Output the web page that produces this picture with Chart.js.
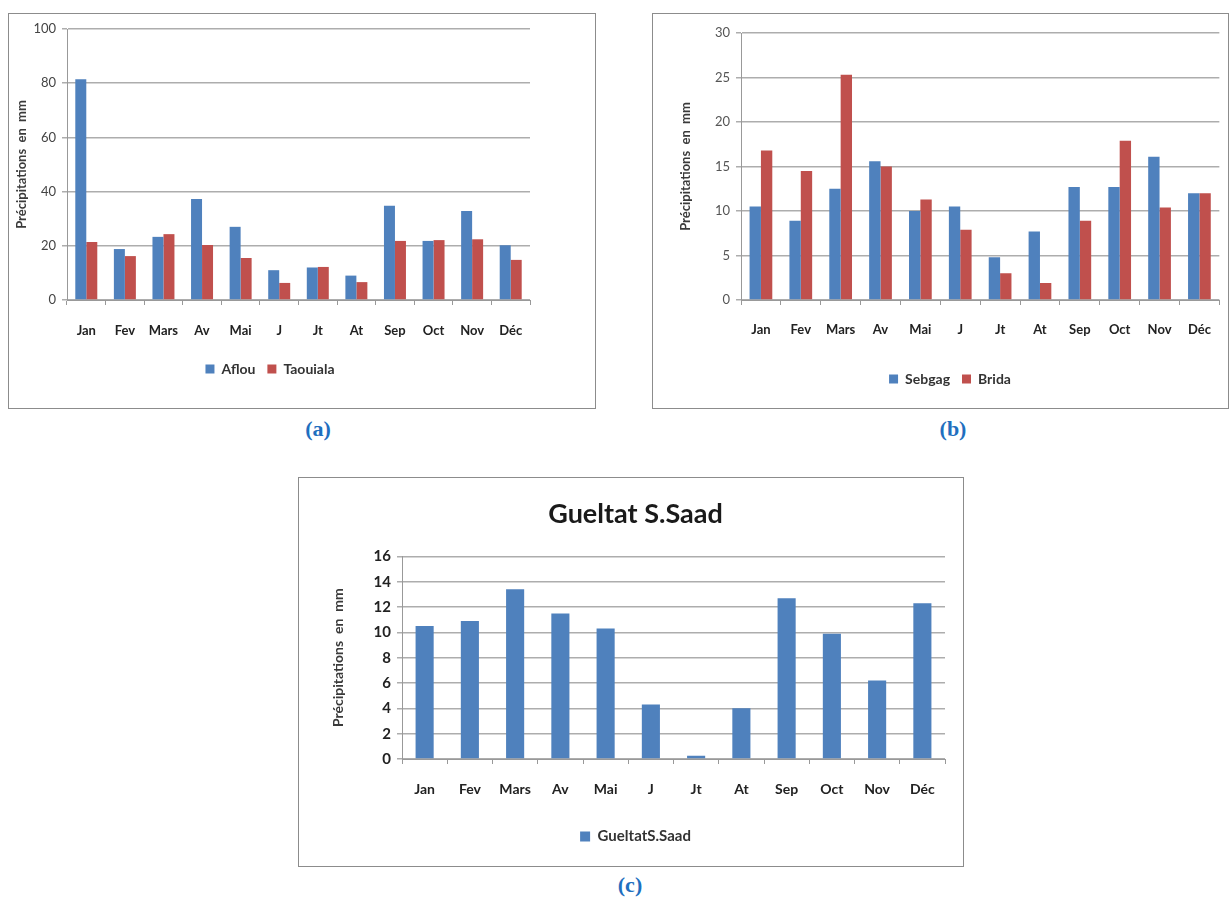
<!DOCTYPE html>
<html>
<head>
<meta charset="utf-8">
<script src="https://cdn.jsdelivr.net/npm/chart.js@4"></script>
<style>
  body { margin: 0; background: #fff; width: 1229px; height: 897px; position: relative; overflow: hidden; }
  .box { position: absolute; border: 1px solid #8c8c8c; background: #fff; }
  .box canvas { display: block; }
  .lbl { position: absolute; font: bold 22px "Liberation Serif", "Times New Roman", serif; color: #1f6fbf; transform: translateX(-50%); }
</style>
</head>
<body>
<div class="box" style="left:8px;top:13px;width:586px;height:394px;"><canvas id="chartA" width="586" height="394"></canvas></div>
<div class="box" style="left:652px;top:13px;width:575px;height:394px;"><canvas id="chartB" width="575" height="394"></canvas></div>
<div class="box" style="left:298px;top:477px;width:664px;height:388px;"><canvas id="chartC" width="664" height="388"></canvas></div>
<div class="lbl" style="left:318px;top:416px;">(a)</div>
<div class="lbl" style="left:953px;top:416px;">(b)</div>
<div class="lbl" style="left:630px;top:872px;">(c)</div>
<script>
// Mois et précipitations mensuelles (mm)
const mois = ['Jan', 'Fev', 'Mars', 'Av', 'Mai', 'J', 'Jt', 'At', 'Sep', 'Oct', 'Nov', 'Déc'];

const aflou = [81.5, 18.8, 23.3, 37.3, 27, 11, 12, 9, 34.8, 21.8, 32.8, 20.2];
const taouiala = [21.4, 16.2, 24.3, 20.3, 15.5, 6.3, 12.2, 6.6, 21.8, 22.1, 22.4, 14.8];

const sebgag = [10.5, 8.9, 12.5, 15.6, 10.0, 10.5, 4.8, 7.7, 12.7, 12.7, 16.1, 12.0];
const brida = [16.8, 14.5, 25.3, 15.0, 11.3, 7.9, 3.0, 1.9, 8.9, 17.9, 10.4, 12.0];

const gueltat = [10.5, 10.9, 13.4, 11.5, 10.3, 4.3, 0.25, 4.0, 12.7, 9.9, 6.2, 12.3];

const BLEU = '#4f81bd';
const ROUGE = '#c0504d';
const FONT = 'Lato, "Open Sans", sans-serif';

function options(o) {
  return {
    responsive: false,
    animation: false,
    layout: { padding: o.padding },
    plugins: {
      title: o.title ? {
        display: true, text: o.title,
        color: '#1a1a1a',
        font: { family: FONT, size: 27, weight: 'bold' },
        padding: { top: 20, bottom: 26 }
      } : { display: false },
      legend: {
        position: 'bottom',
        labels: {
          boxWidth: o.legendBox, boxHeight: o.legendBox,
          color: '#333',
          padding: o.legendPad,
          font: { family: FONT, size: o.legendSize, weight: 'bold' }
        }
      },
      tooltip: { enabled: false }
    },
    scales: {
      x: {
        grid: { display: true, drawOnChartArea: false, color: '#999', tickLength: 5 },
        border: { color: '#999' },
        ticks: { color: '#222', padding: o.xPad, font: { family: FONT, size: o.xSize, weight: 'bold' } },
        afterFit: s => { s.height = o.xHeight; }
      },
      y: {
        min: 0, max: o.max,
        ticks: { stepSize: o.step, color: o.yColor, padding: 6, font: { family: FONT, size: o.ySize, weight: o.yWeight } },
        grid: { color: '#adadad', lineWidth: 1.5, tickLength: 5 },
        border: { color: '#999' },
        title: {
          display: true, text: 'Précipitations  en  mm',
          color: '#3a3a3a',
          font: { family: FONT, size: o.titleSize, weight: 'bold' }
        },
        afterFit: s => { s.width = o.yWidth; }
      }
    }
  };
}

new Chart(document.getElementById('chartA'), {
  type: 'bar',
  data: {
    labels: mois,
    datasets: [
      { label: 'Aflou', data: aflou, backgroundColor: BLEU, categoryPercentage: 0.57, barPercentage: 1 },
      { label: 'Taouiala', data: taouiala, backgroundColor: ROUGE, categoryPercentage: 0.57, barPercentage: 1 }
    ]
  },
  options: options({
    padding: { left: 1, right: 65, top: 15, bottom: 22 },
    max: 100, step: 20, yWidth: 57, xHeight: 50, xPad: 18, xSize: 13, ySize: 13,
    yColor: '#444', yWeight: 'normal', titleSize: 13, legendBox: 9, legendPad: 12, legendSize: 14
  })
});

new Chart(document.getElementById('chartB'), {
  type: 'bar',
  data: {
    labels: mois,
    datasets: [
      { label: 'Sebgag', data: sebgag, backgroundColor: BLEU, categoryPercentage: 0.57, barPercentage: 1 },
      { label: 'Brida', data: brida, backgroundColor: ROUGE, categoryPercentage: 0.57, barPercentage: 1 }
    ]
  },
  options: options({
    padding: { left: 21, right: 2, top: 19, bottom: 12 },
    max: 30, step: 5, yWidth: 67, xHeight: 60, xPad: 17, xSize: 13, ySize: 13,
    yColor: '#555', yWeight: 'normal', titleSize: 13, legendBox: 9, legendPad: 12, legendSize: 14
  })
});

new Chart(document.getElementById('chartC'), {
  type: 'bar',
  data: {
    labels: mois,
    datasets: [
      { label: 'GueltatS.Saad', data: gueltat, backgroundColor: BLEU, categoryPercentage: 0.4, barPercentage: 1 }
    ]
  },
  options: options({
    title: 'Gueltat S.Saad',
    padding: { left: 27, right: 18, top: 0, bottom: 12 },
    max: 16, step: 2, yWidth: 76, xHeight: 56, xPad: 17, xSize: 14, ySize: 15,
    yColor: '#222', yWeight: 'bold', titleSize: 14, legendBox: 10, legendPad: 14, legendSize: 15
  })
});
</script>
</body>
</html>
